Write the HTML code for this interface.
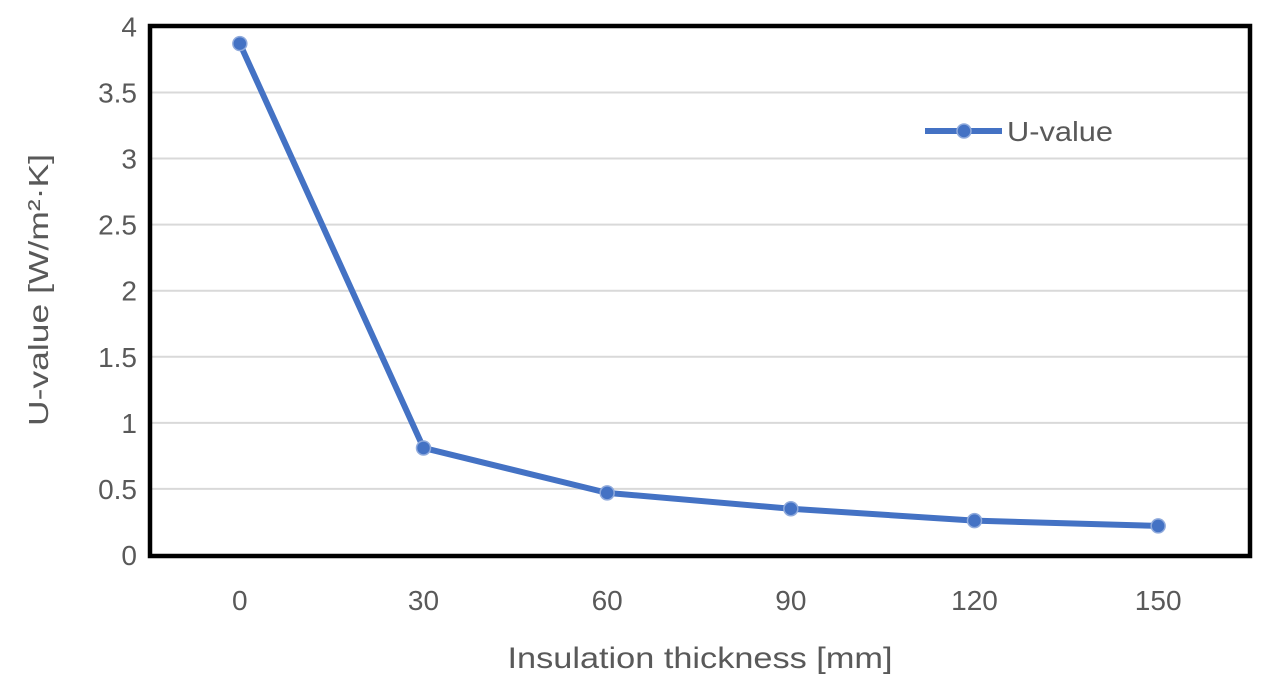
<!DOCTYPE html>
<html><head><meta charset="utf-8"><style>
html,body{margin:0;padding:0;background:#fff;}
svg{display:block;font-family:"Liberation Sans",sans-serif;}
</style></head><body>
<svg id="chart" width="1274" height="681" viewBox="0 0 1274 681">
<g id="grid"></g>
<g id="yticks"></g>
<g id="xticks"></g>
<rect x="150" y="26" width="1100" height="530" fill="none" stroke="#000" stroke-width="4.5"/>
<g id="series"></g>
<g>
<line x1="925" y1="131" x2="1002" y2="131" stroke="#4472C4" stroke-width="6"/>
<circle cx="964" cy="131" r="7" fill="#4472C4" stroke="#8faadc" stroke-width="1.5"/>
<text x="1007" y="141" font-size="28" textLength="106" lengthAdjust="spacingAndGlyphs" fill="#595959">U-value</text>
</g>
<text transform="translate(48,290) rotate(-90)" text-anchor="middle" font-size="28" textLength="272" lengthAdjust="spacingAndGlyphs" fill="#595959">U-value [W/m²·K]</text>
<text x="700" y="668" text-anchor="middle" font-size="30" textLength="385" lengthAdjust="spacingAndGlyphs" fill="#595959">Insulation thickness [mm]</text>
</svg>
<script>
const categories = ["0","30","60","90","120","150"];
const uValues = [3.87, 0.81, 0.47, 0.35, 0.26, 0.22];
const yTicks = [0,0.5,1,1.5,2,2.5,3,3.5,4];
const yTickLabels = ["0","0.5","1","1.5","2","2.5","3","3.5","4"];

const NS="http://www.w3.org/2000/svg";
const left=148,right=1250,y0=555,yTop=26.4,yMax=4;
const xs=i=>left+(right-left)/categories.length*(i+0.5);
const ys=v=>y0-(y0-yTop)*v/yMax;
function mk(tag,attrs,parent){const e=document.createElementNS(NS,tag);for(const k in attrs)e.setAttribute(k,attrs[k]);parent.appendChild(e);return e;}
const grid=document.getElementById('grid'),yt=document.getElementById('yticks'),xt=document.getElementById('xticks'),ser=document.getElementById('series');
yTicks.forEach((v,i)=>{
  if(v>0&&v<yMax){const l=mk('line',{x1:left,x2:right,y1:ys(v),y2:ys(v),stroke:'#d9d9d9','stroke-width':2},grid);
  
  }
  const t=mk('text',{x:137,y:ys(v)+10,'text-anchor':'end','font-size':28,fill:'#595959'},yt);
  t.textContent=yTickLabels[i];
  
  
});
categories.forEach((c,i)=>{
  const t=mk('text',{x:xs(i),y:610,'text-anchor':'middle','font-size':28,fill:'#595959'},xt);
  t.textContent=c;
  
  
});
const pts=uValues.map((v,i)=>xs(i)+','+ys(v)).join(' ');
const pl=mk('polyline',{points:pts,fill:'none',stroke:'#4472C4','stroke-width':6,'stroke-linejoin':'round'},ser);


uValues.forEach((v,i)=>{
  const c=mk('circle',{cx:xs(i),cy:ys(v),r:7,fill:'#4472C4',stroke:'#8faadc','stroke-width':1.5},ser);
  
  
});
</script>
</body></html>
